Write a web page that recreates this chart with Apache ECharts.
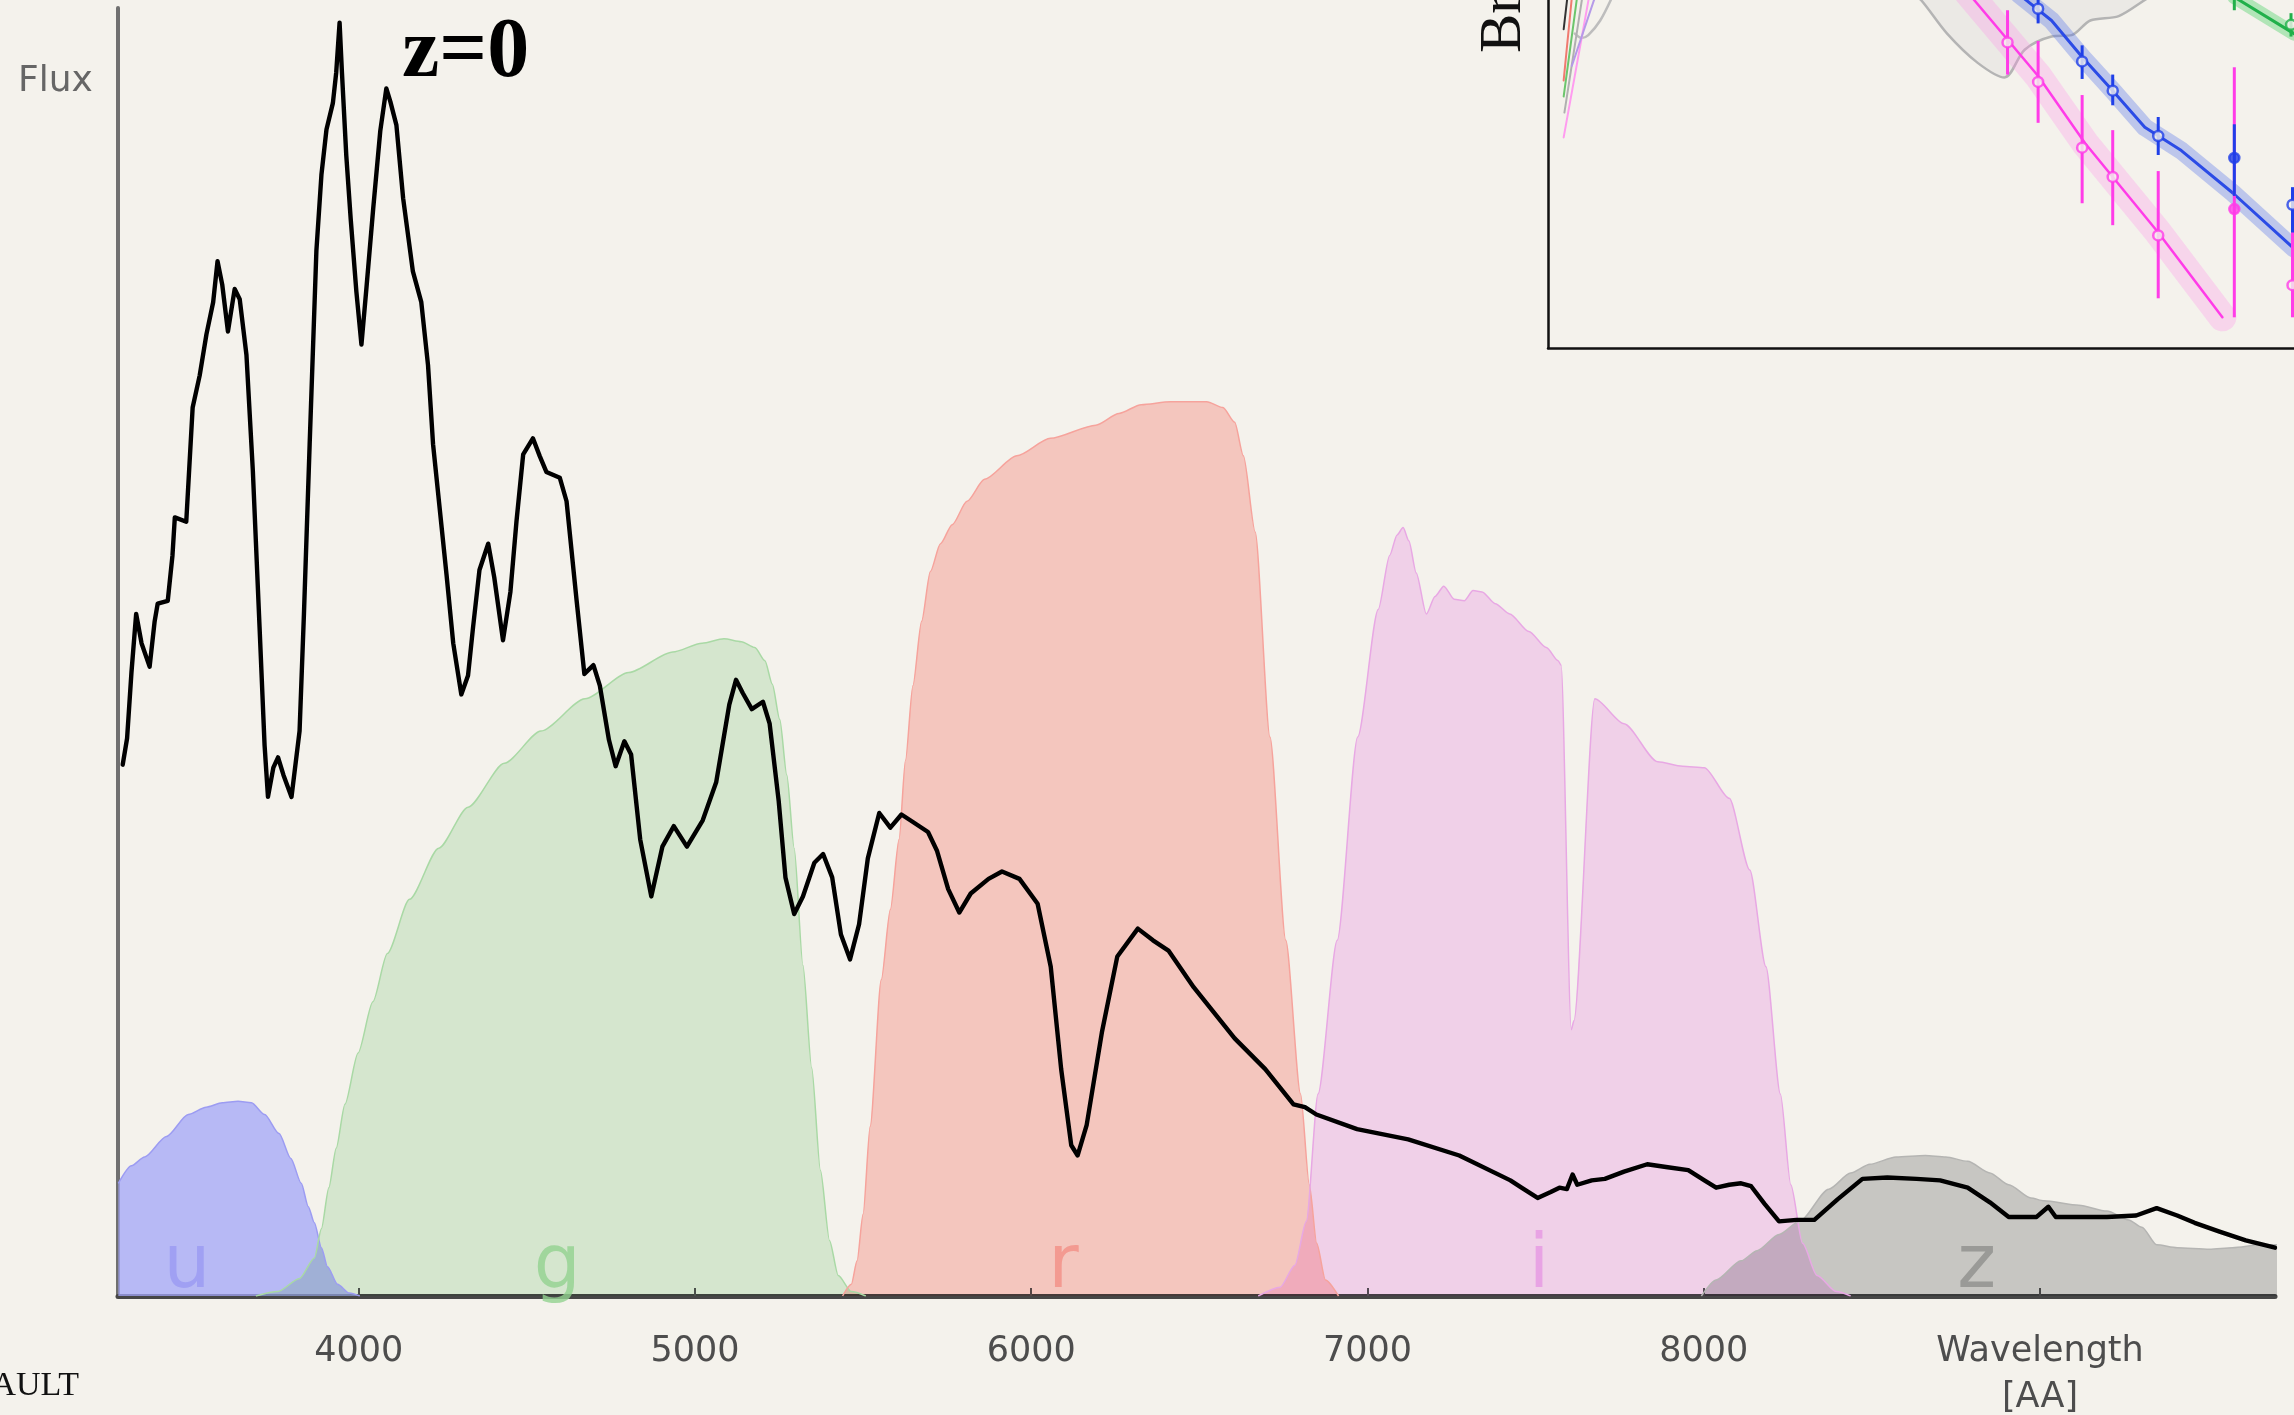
<!DOCTYPE html>
<html><head><meta charset="utf-8">
<script src="https://cdn.jsdelivr.net/npm/echarts@6/dist/echarts.min.js"></script>
<style>html,body{margin:0;padding:0;background:#f4f2ec;}#c{width:2294px;height:1415px;}</style>
</head><body><div id="c"></div>
<script>
// ---------- main chart data (wavelength in Å, flux / transmission in arbitrary units) ----------
const xTickValues = [4000, 5000, 6000, 7000, 8000, 9000];
const xTickLabels = ['4000', '5000', '6000', '7000', '8000', 'Wavelength\n[AA]'];

const spectrum = [
[3298,36.3],[3311,38.1],[3324,42.6],[3338,46.6],[3354,44.6],[3378,43.0],[3393,46.1],[3402,47.3],[3432,47.5],[3446,50.6],[3453,53.2],[3487,52.9],[3506,60.7],[3527,62.9],[3547,65.7],[3567,67.9],[3580,70.7],[3594,69.1],[3611,65.9],[3631,68.8],[3646,68.1],[3666,64.3],[3685,56.4],[3705,45.7],[3720,37.6],
[3730,34.1],[3746,36.1],[3760,36.8],[3776,35.6],[3800,34.1],[3824,38.6],[3837,46.6],[3854,58.2],[3874,71.4],[3889,76.6],[3904,79.7],[3923,81.5],[3933,83.6],[3943,87.0],[3950,83.6],[3963,77.9],[3976,73.6],[3993,68.6],[4008,65.0],[4023,68.9],[4043,74.3],[4064,79.6],[4082,82.5],[4094,81.6],[4112,80.0],[4132,75.0],[4161,70.0],[4186,67.9],[4206,63.6],[4221,58.2],[4261,49.3],[4281,44.6],[4305,41.1],[4325,42.4],[4340,45.7],[4359,49.6],[4385,51.4],[4403,49.1],[4429,44.8],[4451,48.1],[4469,52.9],[4489,57.5],[4518,58.6],[4538,57.4],[4558,56.3],[4598,55.9],[4618,54.3],[4648,47.5],[4671,42.5],[4698,43.1],[4717,41.7],[4744,38.0],[4764,36.2],[4790,37.9],[4810,37.0],[4837,31.2],[4870,27.3],[4903,30.7],[4937,32.1],[4976,30.7],[5023,32.5],[5063,35.1],[5102,40.4],[5122,42.1],[5142,41.2],[5169,40.1],[5202,40.6],[5222,39.1],[5249,33.8],[5269,28.6],[5295,26.1],[5321,27.3],[5355,29.6],[5381,30.2],[5408,28.6],[5434,24.7],[5461,23.0],[5488,25.4],[5514,29.9],[5548,33.0],[5581,32.0],[5614,32.9],[5647,32.4],[5693,31.7],[5720,30.4],[5753,27.8],[5786,26.2],[5820,27.5],[5873,28.5],[5913,29.0],[5965,28.5],[6019,26.8],[6058,22.5],[6089,15.5],[6119,10.3],[6138,9.6],[6165,11.7],[6210,18.0],[6256,23.2],[6317,25.1],[6362,24.3],[6408,23.6],[6483,21.1],[6605,17.6],[6696,15.5],[6780,13.1],[6814,12.9],[6848,12.4],[6969,11.4],[7121,10.7],[7273,9.6],[7425,7.9],[7458,7.4],[7506,6.7],[7545,7.1],[7571,7.4],[7593,7.3],[7610,8.3],[7624,7.6],[7667,7.9],[7706,8.0],[7763,8.5],[7832,9.0],[7893,8.8],[7954,8.6],[8002,7.9],[8037,7.4],[8076,7.6],[8111,7.7],[8141,7.5],[8181,6.3],[8224,5.1],[8276,5.2],[8329,5.2],[8398,6.6],[8472,8.0],[8546,8.1],[8633,8.0],[8703,7.9],[8785,7.4],[8851,6.4],[8907,5.4],[8990,5.4],[9025,6.1],[9047,5.4],[9199,5.4],[9286,5.5],[9347,6.0],[9408,5.5],[9460,5.0],[9534,4.4],[9612,3.8],[9699,3.3]
];

const uFilter = [[3285,7.7],[3324,8.9],[3363,9.5],[3428,10.9],[3493,12.4],[3546,12.9],[3594,13.2],[3641,13.3],[3681,13.2],[3720,12.4],[3763,11.1],[3798,9.4],[3829,7.7],[3850,6.1],[3868,5.0],[3889,3.3],[3907,2.0],[3937,0.8],[3972,0.2],[4003,0]];
const gFilter = [[3694,0],[3759,0.3],[3824,1.2],[3868,2.6],[3889,4.6],[3911,7.4],[3933,10.1],[3959,13.1],[3998,16.6],[4042,20.1],[4085,23.4],[4151,27.1],[4238,30.6],[4325,33.4],[4433,36.4],[4542,38.6],[4673,40.8],[4803,42.6],[4934,44.0],[5021,44.6],[5086,44.9],[5138,44.7],[5178,44.3],[5208,43.4],[5230,41.8],[5252,39.4],[5273,35.6],[5295,30.6],[5321,22.6],[5347,15.6],[5373,8.6],[5400,3.8],[5426,1.4],[5465,0.3],[5508,0]];
const rFilter = [[5439,0],[5465,0.8],[5482,2.4],[5500,5.6],[5521,11.6],[5554,21.6],[5581,26.4],[5607,31.2],[5626,36.6],[5648,41.7],[5674,46.1],[5700,49.5],[5730,51.4],[5765,52.7],[5809,54.3],[5861,55.8],[5957,57.4],[6057,58.6],[6192,59.5],[6261,60.3],[6327,60.9],[6414,61.1],[6522,61.1],[6570,60.7],[6605,59.7],[6631,57.4],[6666,52.2],[6710,38.2],[6757,24.3],[6801,13.8],[6827,7.6],[6849,3.6],[6875,1.1],[6914,0]];
const iFilter = [[6675,0],[6740,0.6],[6784,2.1],[6818,5.1],[6853,13.8],[6910,24.3],[6971,38.2],[7032,46.9],[7066,50.6],[7088,52.0],[7106,52.5],[7123,51.6],[7145,49.4],[7175,46.6],[7201,47.8],[7227,48.5],[7258,47.6],[7288,47.5],[7314,48.2],[7341,48.1],[7380,47.3],[7423,46.6],[7480,45.4],[7532,44.3],[7567,43.4],[7576,43.1],[7606,18.2],[7614,18.8],[7676,40.8],[7763,39.1],[7863,36.5],[7937,36.2],[8002,36.1],[8076,34.0],[8137,29.1],[8185,22.5],[8228,13.8],[8259,7.6],[8294,3.6],[8337,1.4],[8394,0.3],[8437,0]];
const zFilter = [[7993,0],[8037,1.1],[8111,2.4],[8159,3.1],[8224,4.2],[8285,5.1],[8372,7.3],[8437,8.4],[8494,9.0],[8572,9.5],[8659,9.6],[8720,9.5],[8785,9.2],[8851,8.4],[8907,7.6],[8973,6.7],[9012,6.5],[9116,6.2],[9199,5.8],[9264,5.2],[9303,4.7],[9347,3.5],[9408,3.3],[9504,3.2],[9573,3.3],[9656,3.5],[9721,3.5]];

const bandNames = ['u', 'g', 'r', 'i', 'z'];
const bandLabelWave = [3489, 4590, 6096, 7510, 8812];
const bandLabelFlux = [1.9, 1.9, 1.9, 1.9, 1.9];

// ---------- inset (partial light-curve panel) data ----------
const blueX = [65.7, 71.6, 75.7, 81.8, 92.0, 99.8];
const blueY = [0.6, 4.2, 6.2, 9.3, 10.8, 14.0];
const blueLo = [-1.0, 3.1, 5.1, 8.0, 8.5, 12.8];
const blueHi = [1.6, 5.4, 7.2, 10.6, 13.4, 15.9];
const blueFilled = [false, false, false, false, true, false];
const blueFit = [[63.1,-0.4],[67.5,1.4],[71.6,3.9],[75.7,6.2],[80.0,8.7],[84.9,10.3],[91.8,13.2],[100,17.0]];

const magX = [61.6, 65.7, 71.6, 75.7, 81.8, 92.0, 99.8];
const magY = [2.9, 5.6, 10.1, 12.1, 16.1, 14.3, 19.5];
const magLo = [0.7, 2.8, 6.5, 8.9, 11.7, 4.6, 15.5];
const magHi = [5.1, 8.4, 13.9, 15.4, 20.4, 21.7, 21.7];
const magFilled = [false, false, false, false, false, true, false];
const magFit = [[56.3,-0.5],[65.7,5.2],[72.0,9.8],[81.8,15.9],[90.4,21.7]];

const greenX = [92.0, 99.6];
const greenY = [-0.6, 1.7];
const greenLo = [-1.5, 0.9];
const greenHi = [0.7, 2.5];
const greenFit = [[92.0,-0.2],[100,2.3]];

const grayCurve = [[49.0,-0.3],[50.0,0.0],[53.5,2.3],[57.6,4.3],[61.2,5.3],[63.9,3.4],[67.5,2.5],[70.2,2.4],[72.7,1.4],[76.5,1.1],[80.0,0.0],[81.0,-0.3]];
const grayCurveLeft = [[8.6,-0.2],[7.0,1.4],[5.4,2.4],[4.5,2.6],[3.6,2.3]];
const fanColors = ['#333333', '#f07a70', '#6cc56c', '#b0b0b0', '#ff9cf0', '#b59ae8'];
const fanLines = [
  [[2.6,-0.2],[2.1,2.0]],
  [[3.2,-0.2],[2.1,5.5]],
  [[3.9,-0.2],[2.1,6.6]],
  [[4.6,-0.2],[2.2,7.7]],
  [[5.5,-0.2],[2.1,9.4]],
  [[6.3,-0.2],[3.2,4.5]]
];

// ---------- styles ----------
const bandFill = ['rgba(163,165,248,0.75)', 'rgba(204,226,200,0.75)', 'rgba(249,183,176,0.75)', 'rgba(239,202,233,0.75)', 'rgba(185,185,182,0.75)'];
// colours used when the filter areas are multiplied onto what lies beneath (so overlaps darken)
const bandMultiply = [null, '#dff3df', '#ffd1ce', '#fbdcfb', '#d0d1d2'];
const bandEdge = ['#9c9cf2', '#a9d9a5', '#f6a39c', '#e8a8e4', '#b5b5b3'];
const bandLabelColors = ['#9a9af3', '#92d290', '#f38f86', '#e697e2', '#8e8e8c'];
const bandData = [uFilter, gFilter, rFilter, iFilter, zFilter];

const series = [];
bandData.forEach((d, k) => {
  series.push({
    name: bandNames[k], type: 'line', data: d, smooth: 0.25, smoothMonotone: 'x',
    symbol: 'none', silent: true, z: 1,
    lineStyle: { color: bandEdge[k], width: 1.5 },
    areaStyle: { color: bandFill[k], opacity: 1 }
  });
});
series.push({
  type: 'scatter', z: 3, silent: true, symbolSize: 1,
  itemStyle: { color: 'rgba(0,0,0,0)' },
  data: bandNames.map((n, k) => ({ name: n, value: [bandLabelWave[k], bandLabelFlux[k]], label: { color: bandLabelColors[k] } })),
  label: { show: true, position: 'inside', formatter: '{b}', fontSize: 74, fontWeight: 'normal', fontFamily: 'DejaVu Sans' }
});
series.push({
  name: 'spectrum', type: 'line', data: spectrum, symbol: 'none', silent: true, z: 5,
  lineStyle: { color: '#000', width: 4.4, join: 'round', cap: 'round' }
});

// inset series
function insetLine(data, color, width, z, extra) {
  return Object.assign({ type: 'line', xAxisIndex: 1, yAxisIndex: 1, data, symbol: 'none', silent: true, z,
    lineStyle: { color, width, cap: 'round', join: 'round' } }, extra || {});
}
series.push(insetLine(grayCurve, '#b4b4b4', 2.5, 2, { smooth: 0.3, areaStyle: { color: 'rgba(205,205,205,0.3)', origin: 'start' } }));
series.push(insetLine(grayCurveLeft, '#bdbdbd', 2.5, 2, { smooth: 0.3 }));
fanLines.forEach((d, k) => series.push(insetLine(d, fanColors[k], 2, 2)));
series.push(insetLine(magFit, 'rgba(255,140,235,0.28)', 28, 3));
series.push(insetLine(blueFit, 'rgba(80,110,235,0.33)', 18, 3));
series.push(insetLine(greenFit, 'rgba(110,215,130,0.5)', 14, 3));
series.push(insetLine(magFit, '#ff3ce8', 2.5, 4));
series.push(insetLine(blueFit, '#2b4be6', 3, 4));
series.push(insetLine(greenFit, '#21b04a', 3, 4));

function errorBars(xs, lo, hi, color) {
  return { type: 'custom', xAxisIndex: 1, yAxisIndex: 1, silent: true, z: 6, clip: true,
    data: xs.map((x, k) => [x, lo[k], hi[k]]), encode: { x: 0, y: [1, 2] },
    renderItem: (p, api) => {
      const a = api.coord([api.value(0), api.value(1)]);
      const b = api.coord([api.value(0), api.value(2)]);
      return { type: 'line', shape: { x1: a[0], y1: a[1], x2: b[0], y2: b[1] }, style: { stroke: color, lineWidth: 3 } };
    } };
}
series.push(errorBars(magX, magLo, magHi, '#ff3ce8'));
series.push(errorBars(blueX, blueLo, blueHi, '#1f3fe8'));
series.push(errorBars(greenX, greenLo, greenHi, '#21b04a'));

function points(xs, ys, filled, color) {
  return { type: 'scatter', xAxisIndex: 1, yAxisIndex: 1, silent: true, z: 7, symbol: 'circle', symbolSize: 10,
    data: xs.map((x, k) => ({ value: [x, ys[k]], itemStyle: filled && filled[k] ? { color, borderColor: color, borderWidth: 2.5 } : { color: '#f4f2ec', borderColor: color, borderWidth: 2.5 } })) };
}
series.push(points(magX, magY, magFilled, '#ff3ce8'));
series.push(points(blueX, blueY, blueFilled, '#1f3fe8'));
series.push(points(greenX, greenY, null, '#21b04a'));

const chart = echarts.init(document.getElementById('c'), null, { renderer: 'canvas', width: 2294, height: 1415 });
chart.setOption({
  animation: false,
  backgroundColor: '#f4f2ec',
  grid: [
    { left: 118, right: 19, top: 8, bottom: 119, containLabel: false, outerBoundsMode: 'none' },
    { left: 1548, right: 0, top: 0, bottom: 1067, containLabel: false, outerBoundsMode: 'none' }
  ],
  xAxis: [
    { type: 'value', gridIndex: 0, min: 3284, max: 9699,
      splitLine: { show: false },
      axisLine: { show: true, onZero: false, lineStyle: { color: '#464646', width: 5 } },
      axisTick: { show: true, inside: true, length: 8, customValues: xTickValues, lineStyle: { color: '#555', width: 2 } },
      axisLabel: { show: true, customValues: xTickValues, margin: 33, color: '#4d4d4d', fontSize: 35, fontFamily: 'DejaVu Sans', lineHeight: 46,
        formatter: (v) => { const k = xTickValues.indexOf(v); return k >= 0 ? xTickLabels[k] : ''; } } },
    { type: 'value', gridIndex: 1, min: 0, max: 100, splitLine: { show: false },
      axisLine: { show: true, onZero: false, lineStyle: { color: '#111', width: 2.5 } },
      axisTick: { show: false }, axisLabel: { show: false } }
  ],
  yAxis: [
    { type: 'value', gridIndex: 0, min: 0, max: 88, splitLine: { show: false },
      axisLine: { show: true, onZero: false, lineStyle: { color: '#707070', width: 4 } },
      axisTick: { show: false }, axisLabel: { show: false } },
    { type: 'value', gridIndex: 1, min: 0, max: 23.8, inverse: true, splitLine: { show: false },
      axisLine: { show: true, onZero: false, lineStyle: { color: '#111', width: 2.5 } },
      axisTick: { show: false }, axisLabel: { show: false } }
  ],
  graphic: [
    { type: 'text', left: 18, top: 64, silent: true, style: { text: 'Flux', font: '36px "DejaVu Sans"', fill: '#666' } },
    { type: 'text', x: 402, y: 54, silent: true, style: { text: 'z=0', font: 'bold 84px "Liberation Serif"', fill: '#000', textVerticalAlign: 'middle', verticalAlign: 'middle' } },
    { type: 'text', x: 79, y: 1386, silent: true, style: { text: 'AULT', font: '34px "Liberation Serif"', fill: '#111', textAlign: 'right', align: 'right', textVerticalAlign: 'middle', verticalAlign: 'middle' } },
    { type: 'text', x: 1504, y: 53, rotation: Math.PI / 2, silent: true, style: { text: 'Brightness', font: '59px "Liberation Serif"', fill: '#111', textVerticalAlign: 'middle', verticalAlign: 'middle' } }
  ],
  series
});

// make overlapping filter areas darken like the reference (multiply blending)
try {
  const zr = chart.getZr();
  zr.storage.getDisplayList(true).forEach(el => {
    if (!el.style) return;
    const k = bandFill.indexOf(el.style.fill);
    if (k > 0 && bandMultiply[k]) {
      el.style.fill = bandMultiply[k];
      el.style.blend = 'multiply';
      el.markRedraw();
    }
  });
  zr.refreshImmediately();
} catch (e) {}
</script>
</body></html>
